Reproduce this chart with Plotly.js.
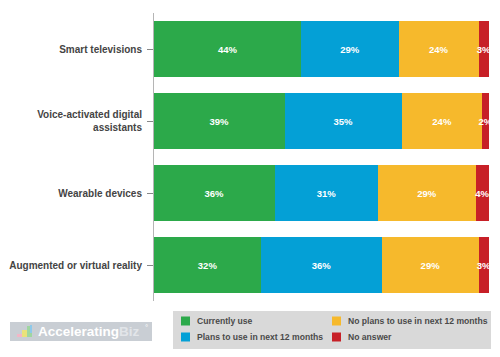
<!DOCTYPE html>
<html>
<head>
<meta charset="utf-8">
<script src="https://cdn.plot.ly/plotly-3.0.1.min.js"></script>
<style>html,body{margin:0;padding:0;background:#fff;}#chart{width:500px;height:357px;}</style>
</head>
<body>
<div id="chart"></div>
<script>
const categories = ["Smart televisions", "Voice-activated digital<br>assistants", "Wearable devices", "Augmented or virtual reality"];
const seriesNames = ["Currently use", "Plans to use in next 12 months", "No plans to use in next 12 months", "No answer"];
const currentlyUse = [44, 39, 36, 32];
const plansToUse = [29, 35, 31, 36];
const noPlans = [24, 24, 29, 29];
const noAnswer = [3, 2, 4, 3];
const colors = ["#2ca94a", "#04a0d6", "#f6b92c", "#c72027"];

// plot-area geometry (pixels) used to convert legend/logo positions to paper coords
const PX0 = 154, PW = 335, PY1 = 301, PH = 288;
const px = v => (v - PX0) / PW;
const py = v => (PY1 - v) / PH;

const seriesValues = [currentlyUse, plansToUse, noPlans, noAnswer];
const traces = seriesValues.map((vals, i) => ({
  type: "bar",
  orientation: "h",
  name: seriesNames[i],
  y: categories,
  x: vals,
  text: vals.map(v => v + "%"),
  textposition: "inside",
  insidetextanchor: "middle",
  constraintext: "none",
  textangle: 0,
  cliponaxis: false,
  textfont: {family: "Liberation Sans, Arial, sans-serif", size: 9.5, color: "#ffffff", weight: 700},
  marker: {color: colors[i], line: {width: 0}},
  showlegend: false,
  hoverinfo: "skip"
}));

// manual two-column legend: [seriesIndex, column, row]
const legendSlots = [[0, 0, 0], [2, 1, 0], [1, 0, 1], [3, 1, 1]];
const colX = [181, 332];
const rowY = [321, 337];

const shapes = [{
  type: "rect", xref: "paper", yref: "paper",
  x0: px(173), x1: px(491), y0: py(311), y1: py(349),
  fillcolor: "#d9d9d9", line: {width: 0}, layer: "below"
}];
const annotations = [];
legendSlots.forEach(([s, c, r]) => {
  shapes.push({
    type: "rect", xref: "paper", yref: "paper",
    x0: px(colX[c]), x1: px(colX[c] + 9), y0: py(rowY[r] + 4.5), y1: py(rowY[r] - 4.5),
    fillcolor: colors[s], line: {width: 0}
  });
  annotations.push({
    xref: "paper", yref: "paper",
    x: px(colX[c] + 14), y: py(rowY[r]),
    xanchor: "left", yanchor: "middle",
    text: "<b>" + seriesNames[s] + "</b>",
    showarrow: false,
    font: {size: 8.6, color: "#4a4a4a", family: "Liberation Sans, Arial, sans-serif"}
  });
});

// logo box
shapes.push({
  type: "rect", xref: "paper", yref: "paper",
  x0: px(10), x1: px(152), y0: py(322), y1: py(341),
  fillcolor: "#c9ced4", line: {width: 0}, layer: "below"
});
// small logo icon
const iconBars = [[17, 22, 337, 334, "#f2b6c6"], [22, 27, 337, 330, "#e9e27a"], [27, 32, 337, 326, "#9fd6a0"], [30, 32, 333, 325, "#8ec9ea"]];
iconBars.forEach(([a, b, c, d, col]) => shapes.push({
  type: "rect", xref: "paper", yref: "paper",
  x0: px(a), x1: px(b), y0: py(c), y1: py(d),
  fillcolor: col, line: {width: 0}
}));
annotations.push({
  xref: "paper", yref: "paper",
  x: px(36), y: py(331.5),
  xanchor: "left", yanchor: "middle",
  text: "<b><span style='color:#ffffff'>Accelerating</span><span style='color:#e2e5e9'>Biz</span></b>",
  showarrow: false,
  font: {size: 13.5, family: "Liberation Sans, Arial, sans-serif", color: "#ffffff"}
});
annotations.push({
  xref: "paper", yref: "paper",
  x: px(143), y: py(327),
  xanchor: "left", yanchor: "middle",
  text: "°",
  showarrow: false,
  font: {size: 8, family: "Liberation Sans, Arial, sans-serif", color: "#ffffff"}
});

const layout = {
  width: 500, height: 357,
  margin: {l: 154, r: 11, t: 13, b: 56},
  barmode: "stack",
  bargap: 0.21,
  paper_bgcolor: "#ffffff",
  plot_bgcolor: "#ffffff",
  font: {family: "Liberation Sans, Arial, sans-serif"},
  xaxis: {range: [0, 100], visible: false, fixedrange: true},
  yaxis: {
    autorange: "reversed",
    showline: true, linecolor: "#b5b5b5", linewidth: 1,
    ticks: "outside", ticklen: 6, tickcolor: "#888",
    ticklabelstandoff: 3,
    tickfont: {size: 10, color: "#444", weight: 700},
    showgrid: false, zeroline: false
  },
  showlegend: false,
  shapes: shapes,
  annotations: annotations
};

Plotly.newPlot("chart", traces, layout, {displayModeBar: false, staticPlot: true});
</script>
</body>
</html>
